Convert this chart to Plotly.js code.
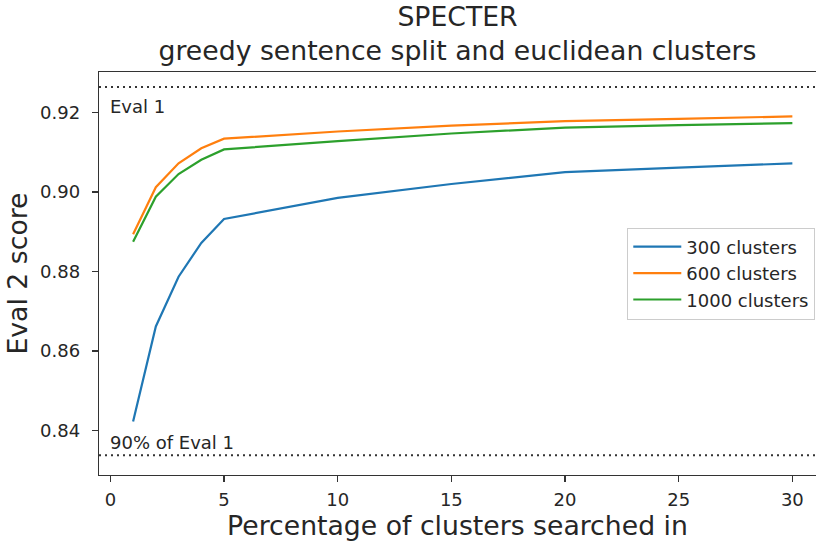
<!DOCTYPE html>
<html>
<head>
<meta charset="utf-8">
<script src="https://cdn.plot.ly/plotly-3.0.1.min.js"></script>
<style>
  html, body { margin: 0; padding: 0; background: #fff; overflow: hidden; }
  #chart { width: 816px; height: 543px; }
</style>
</head>
<body>
<div id="chart"></div>
<script>
// ---- data ----
const pctSearched = [1, 2, 3, 4, 5, 10, 15, 20, 25, 30];
const clusters300 = [0.8423, 0.8662, 0.8787, 0.8872, 0.8932, 0.8985, 0.9020, 0.9050, 0.9061, 0.9072];
const clusters600 = [0.8894, 0.9012, 0.9072, 0.9110, 0.9134, 0.9152, 0.9167, 0.9178, 0.9184, 0.9190];
const clusters1000 = [0.8875, 0.8988, 0.9045, 0.9081, 0.9107, 0.9128, 0.9147, 0.9162, 0.9168, 0.9173];
const seriesNames = ['300 clusters', '600 clusters', '1000 clusters'];
const evalOne = 0.9264;
const evalNinety = 0.8338;
const refLabels = ['Eval 1', '90% of Eval 1'];
const xTicks = [0, 5, 10, 15, 20, 25, 30];
const yTicks = [0.84, 0.86, 0.88, 0.90, 0.92];

const colors = ['#1f77b4', '#ff7f0e', '#2ca02c'];
const FONT = 'DejaVu Sans, sans-serif';
const TXT = '#262626';

const traces = [clusters300, clusters600, clusters1000].map((ys, i) => ({
  x: pctSearched, y: ys, type: 'scatter', mode: 'lines',
  name: seriesNames[i],
  line: { color: colors[i], width: 2.2 }
}));

const layout = {
  width: 816, height: 543,
  margin: { l: 99, r: 0, t: 72, b: 68 },
  paper_bgcolor: '#fff', plot_bgcolor: '#fff',
  font: { family: FONT, color: TXT, size: 18 },
  title: {
    text: 'SPECTER<br>greedy sentence split and euclidean clusters',
    font: { family: FONT, size: 26.7, color: TXT },
    x: 0.5, xref: 'paper', xanchor: 'center',
    y: 0.953, yref: 'container', yanchor: 'top'
  },
  xaxis: {
    range: [-0.5, 31.04],
    tickvals: xTicks, ticktext: xTicks.map(String),
    ticks: 'outside', ticklen: 6, tickwidth: 1.3, tickcolor: '#333',
    ticklabelstandoff: 2,
    showline: true, mirror: true, linecolor: '#333', linewidth: 1.3,
    showgrid: false, zeroline: false,
    tickfont: { family: FONT, size: 18, color: TXT },
    title: { text: 'Percentage of clusters searched in', font: { family: FONT, size: 26.7, color: TXT }, standoff: 5 }
  },
  yaxis: {
    range: [0.82886, 0.93016],
    tickvals: yTicks, ticktext: yTicks.map(v => v.toFixed(2)),
    ticks: 'outside', ticklen: 6, tickwidth: 1.3, tickcolor: '#333',
    ticklabelstandoff: 8,
    showline: true, mirror: false, linecolor: '#333', linewidth: 1.3,
    showgrid: false, zeroline: false,
    tickfont: { family: FONT, size: 18, color: TXT },
    title: { text: 'Eval 2 score', font: { family: FONT, size: 26.7, color: TXT }, standoff: 4 }
  },
  shapes: [evalOne, evalNinety].map(v => ({
    type: 'line', xref: 'paper', x0: 0, x1: 1, yref: 'y', y0: v, y1: v,
    line: { color: '#333', width: 2, dash: '2px,4px' }
  })),
  annotations: [
    { x: 0, y: evalOne, xref: 'x', yref: 'y', text: refLabels[0], showarrow: false,
      xanchor: 'left', yanchor: 'top', yshift: -7, xshift: -2, font: { family: FONT, size: 18, color: TXT } },
    { x: 0, y: evalNinety, xref: 'x', yref: 'y', text: refLabels[1], showarrow: false,
      xanchor: 'left', yanchor: 'bottom', yshift: 0, xshift: -2, font: { family: FONT, size: 18, color: TXT } }
  ],
  legend: {
    x: 0.999, xanchor: 'right', y: 0.5, yanchor: 'middle',
    itemwidth: 48,
    bgcolor: 'rgba(255,255,255,0.8)', bordercolor: '#cccccc', borderwidth: 1,
    font: { family: FONT, size: 18, color: TXT }
  },
  showlegend: true
};

Plotly.newPlot('chart', traces, layout, { displayModeBar: false, staticPlot: true });
</script>
</body>
</html>
